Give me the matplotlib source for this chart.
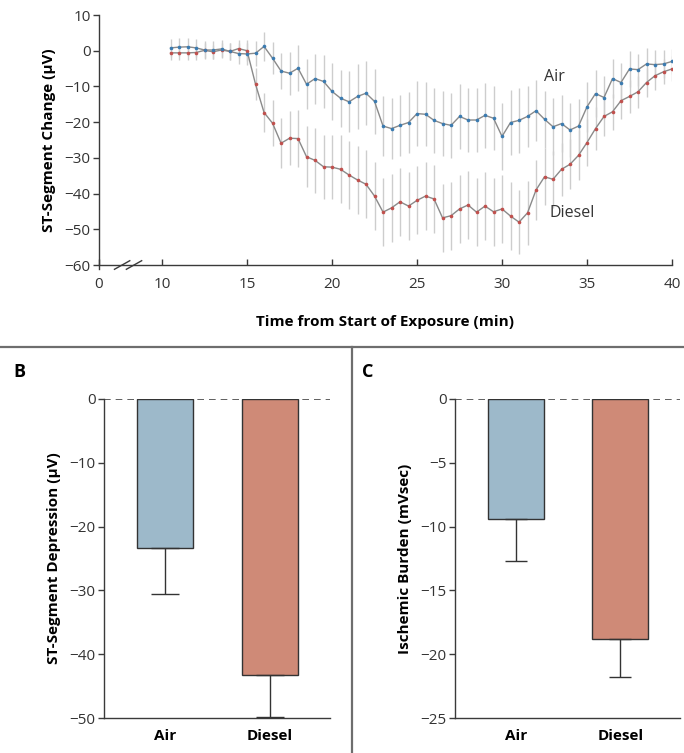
import matplotlib
matplotlib.use("Agg")
import matplotlib.pyplot as plt
from matplotlib.lines import Line2D

plt.rcParams['font.family'] = ['Open Sans', 'DejaVu Sans']
plt.rcParams['axes.unicode_minus'] = True

# Panel A data: ST-segment change over time (minutes from start of exposure)
time_min = [10.5, 11.0, 11.5, 12.0, 12.5, 13.0, 13.5, 14.0, 14.5, 15.0,
            15.5, 16.0, 16.5, 17.0, 17.5, 18.0, 18.5, 19.0, 19.5, 20.0,
            20.5, 21.0, 21.5, 22.0, 22.5, 23.0, 23.5, 24.0, 24.5, 25.0,
            25.5, 26.0, 26.5, 27.0, 27.5, 28.0, 28.5, 29.0, 29.5, 30.0,
            30.5, 31.0, 31.5, 32.0, 32.5, 33.0, 33.5, 34.0, 34.5, 35.0,
            35.5, 36.0, 36.5, 37.0, 37.5, 38.0, 38.5, 39.0, 39.5, 40.0]

air_st = [0.8, 1.0, 1.1, 0.8, 0.2, 0.2, 0.5, -0.2, -0.8, -0.9,
          -0.7, 1.2, -2.1, -5.7, -6.3, -4.9, -9.4, -7.8, -8.6, -11.4,
          -13.3, -14.3, -12.8, -11.9, -14.2, -21.1, -21.8, -20.9, -20.1, -17.6,
          -17.8, -19.5, -20.4, -20.9, -18.4, -19.4, -19.4, -18.1, -18.9, -24.0,
          -20.1, -19.5, -18.4, -16.8, -19.2, -21.3, -20.4, -22.2, -21.1, -15.7,
          -12.0, -13.1, -7.8, -8.9, -5.1, -5.3, -3.7, -3.9, -3.7, -3.0]

diesel_st = [-0.6, -0.6, -0.6, -0.5, 0.1, -0.3, 0.2, -0.2, 0.6, 0.0,
             -9.4, -17.3, -20.3, -25.9, -24.5, -24.6, -29.7, -30.7, -32.5, -32.6,
             -33.2, -34.8, -36.2, -37.4, -40.7, -45.2, -44.0, -42.3, -43.5, -41.9,
             -40.7, -41.5, -46.8, -46.2, -44.3, -43.2, -45.2, -43.5, -45.1, -44.3,
             -46.3, -48.0, -45.4, -39.0, -35.3, -36.0, -33.2, -31.8, -29.3, -25.7,
             -21.8, -18.4, -17.1, -14.0, -12.8, -11.5, -8.9, -7.0, -5.9, -5.1]

air_err = [2.5, 2.5, 2.5, 2.5, 2.5, 2.5, 2.5, 2.5, 3.0, 3.0,
           3.5, 4.0, 4.5, 5.0, 6.0, 6.5, 7.0, 7.0, 7.5, 8.0,
           8.0, 8.5, 9.0, 9.0, 9.0, 8.5, 8.5, 8.5, 8.5, 9.0,
           9.0, 9.0, 9.0, 9.0, 9.0, 9.0, 9.0, 9.0, 9.0, 9.5,
           9.0, 9.0, 8.5, 8.5, 8.0, 8.0, 8.0, 7.5, 7.5, 7.0,
           6.5, 6.0, 5.5, 5.5, 5.0, 4.5, 4.5, 4.0, 4.0, 3.5]

diesel_err = [2.0, 2.0, 2.0, 2.0, 2.0, 2.0, 2.0, 2.5, 2.5, 3.0,
              4.5, 5.5, 6.5, 7.0, 7.5, 8.0, 8.5, 9.0, 9.0, 9.0,
              9.5, 9.5, 9.5, 9.5, 9.5, 9.5, 9.5, 9.5, 9.5, 9.5,
              9.5, 9.5, 9.5, 9.5, 9.5, 9.5, 9.5, 9.5, 9.5, 9.5,
              9.5, 9.0, 9.0, 8.5, 8.0, 8.0, 7.5, 7.0, 7.0, 6.5,
              6.0, 5.5, 5.0, 5.0, 4.5, 4.5, 4.0, 4.0, 3.5, 3.5]

# Panels B and C: bar summaries (mean, lower error)
groups = ['Air', 'Diesel']
st_depression = [-23.4, -43.2]
st_depression_err = [7.2, 6.6]
ischemic_burden = [-9.4, -18.8]
ischemic_burden_err = [3.3, 3.0]

# Colours
AIR_BLUE = '#3b7bb0'
DIESEL_RED = '#c0504d'
AIR_FILL = '#9db9ca'
DIESEL_FILL = '#cf8a77'
DARK = '#3a3a3a'

W, H = 684, 753
fig = plt.figure(figsize=(W / 100, H / 100), dpi=100)

def frac(left, top, right, bottom):
    # pixel box -> figure fraction rect
    return [left / W, 1 - bottom / H, (right - left) / W, (bottom - top) / H]

# ---------------- Panel A ----------------
axA = fig.add_axes(frac(99, 15, 672, 265))
X_ZERO = 6.29  # position used for the broken "0" tick

axA.errorbar(time_min, diesel_st, yerr=diesel_err, fmt='none',
             ecolor='#cdcdcd', elinewidth=1.0, zorder=1)
axA.errorbar(time_min, air_st, yerr=air_err, fmt='none',
             ecolor='#cdcdcd', elinewidth=1.0, zorder=1)
axA.plot(time_min, diesel_st, color='#8a8a8a', lw=1.0, zorder=2)
axA.plot(time_min, air_st, color='#8a8a8a', lw=1.0, zorder=2)
axA.plot(time_min, diesel_st, 'o', ms=2.6, color=DIESEL_RED, mec='none', zorder=3)
axA.plot(time_min, air_st, 'o', ms=2.6, color=AIR_BLUE, mec='none', zorder=3)

axA.set_xlim(X_ZERO, 40)
axA.set_ylim(-60, 10)
axA.set_xticks([X_ZERO, 10, 15, 20, 25, 30, 35, 40])
axA.set_xticklabels(['0', '10', '15', '20', '25', '30', '35', '40'])
axA.set_yticks(range(-60, 11, 10))
for s in ['top', 'right']:
    axA.spines[s].set_visible(False)
for s in ['left', 'bottom']:
    axA.spines[s].set_color(DARK)
    axA.spines[s].set_linewidth(1.0)
axA.spines['left'].set_bounds(-61.2, 10)
axA.tick_params(axis='y', direction='out', length=4, width=1, color=DARK,
                labelsize=11, labelcolor='#333333', pad=2)
axA.tick_params(axis='x', direction='in', length=4, width=1, color=DARK,
                labelsize=11, labelcolor='#333333', pad=9)
axA.set_ylabel('ST-Segment Change (μV)', fontsize=11, fontweight='bold', labelpad=6)
axA.set_xlabel('Time from Start of Exposure (min)', fontsize=11,
               fontweight='bold', labelpad=8)
axA.xaxis.set_label_coords((385 - 99) / (672 - 99), -0.2)

# axis break marks
for dx in [-0.35, 0.35]:
    axA.plot([8.0 + dx - 0.45, 8.0 + dx + 0.45], [-61.2, -58.8], color=DARK,
             lw=1.0, clip_on=False, zorder=4)

axA.text(33.1, -7.4, 'Air', fontsize=11.5, ha='center', va='center', color='#333333')
axA.text(34.1, -45.4, 'Diesel', fontsize=11.5, ha='center', va='center', color='#333333')

# ---------------- Panel separators ----------------
sep_y = 1 - 347 / H
fig.add_artist(Line2D([0, 1], [sep_y, sep_y], transform=fig.transFigure,
                      color='#6e6e6e', lw=1.6))
fig.add_artist(Line2D([352 / W, 352 / W], [0, sep_y], transform=fig.transFigure,
                      color='#6e6e6e', lw=1.6))
fig.text(13 / W, 1 - 372 / H, 'B', fontsize=13, fontweight='bold', va='center')
fig.text(362 / W, 1 - 372 / H, 'C', fontsize=13, fontweight='bold', va='center')


def bar_panel(ax, values, errs, ylim, yticks, ylabel, capsize):
    xpos = [0, 1]
    ax.axhline(0, color='#444444', lw=1.2, ls=(0, (4, 3)), zorder=1)
    ax.bar(xpos, values, width=0.535, color=[AIR_FILL, DIESEL_FILL],
           edgecolor='#333333', linewidth=1.0, zorder=2)
    ax.errorbar(xpos, values, yerr=[errs, [0, 0]], fmt='none', ecolor='#333333',
                elinewidth=1.0, capsize=capsize, capthick=1.0, zorder=3)
    ax.set_xlim(-0.58, 1.57)
    ax.set_ylim(*ylim)
    ax.set_yticks(yticks)
    ax.set_xticks(xpos)
    ax.set_xticklabels(groups, fontweight='bold', fontsize=11)
    for s in ['top', 'right']:
        ax.spines[s].set_visible(False)
    for s in ['left', 'bottom']:
        ax.spines[s].set_color(DARK)
        ax.spines[s].set_linewidth(1.0)
    ax.tick_params(axis='x', length=0, pad=8)
    ax.tick_params(axis='y', direction='out', length=4, width=1, color=DARK,
                   labelsize=11, labelcolor='#333333', pad=2)
    ax.set_ylabel(ylabel, fontsize=11, fontweight='bold', labelpad=6)


# ---------------- Panel B ----------------
axB = fig.add_axes(frac(104, 399, 330, 718))
bar_panel(axB, st_depression, st_depression_err, (-50, 0), range(-50, 1, 10),
          'ST-Segment Depression (μV)', 10)

# ---------------- Panel C ----------------
axC = fig.add_axes(frac(455, 399, 680, 718))
bar_panel(axC, ischemic_burden, ischemic_burden_err, (-25, 0), range(-25, 1, 5),
          'Ischemic Burden (mVsec)', 8)

fig.savefig('out.png', dpi=100, facecolor='white')
